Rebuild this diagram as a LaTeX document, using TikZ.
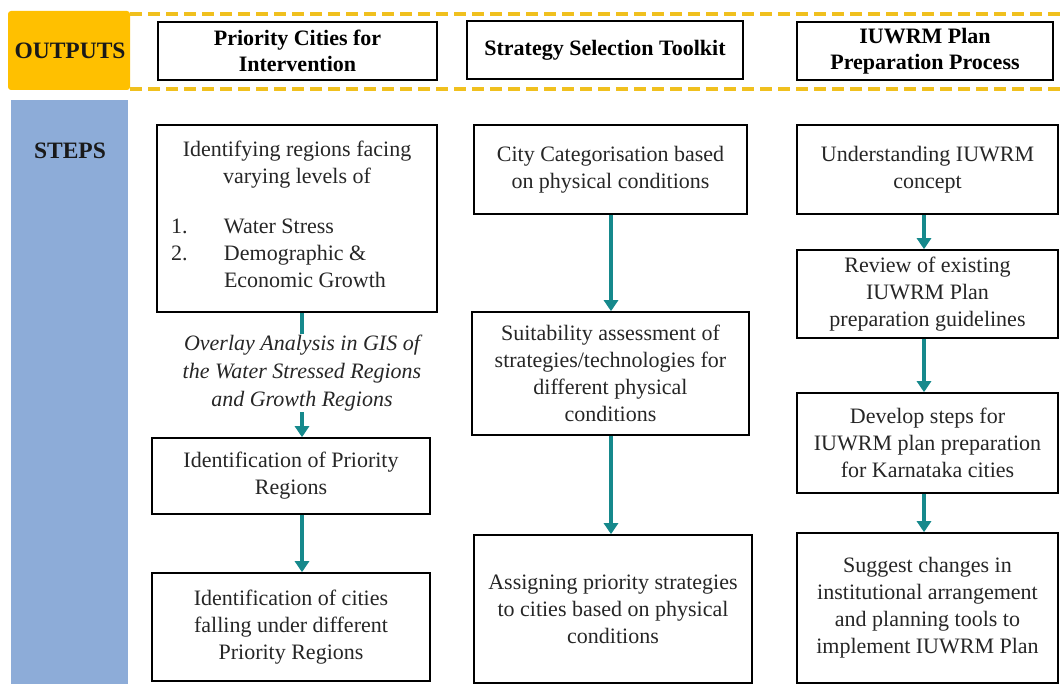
\documentclass[tikz,border=0pt]{standalone}
\usepackage{fontspec}
\setmainfont{Liberation Serif}
\usetikzlibrary{arrows.meta}

\definecolor{outyellow}{RGB}{255,192,0}
\definecolor{dashyellow}{RGB}{240,192,30}
\definecolor{stepblue}{RGB}{141,172,216}
\definecolor{flowteal}{RGB}{22,137,140}

\tikzset{
  body/.style={font=\fontsize{22}{27}\selectfont},
  stepbox/.style={draw=black, line width=1.6pt, fill=white, align=center,
    inner sep=4pt, text=black!85, body},
  outbox/.style={stepbox, text=black, font=\bfseries\fontsize{22}{26.5}\selectfont},
  flow/.style={draw=flowteal, line width=4pt,
    -{Triangle[width=14pt,length=11pt]}},
  flowplain/.style={draw=flowteal, line width=4pt},
  sep/.style={draw=dashyellow, line width=3.5pt, dash pattern=on 12pt off 6pt},
  tag/.style={font=\bfseries\fontsize{23.5}{26}\selectfont, text=black!90}
}

\begin{document}
\begin{tikzpicture}[x=1pt,y=-1pt]
\useasboundingbox (0,0) rectangle (1060,684);

% side bands
\fill[outyellow, rounded corners=3pt] (8,11) rectangle (130,90);
\fill[stepblue] (11,100) rectangle (128,690);
\node[tag] (outputs) at (70,51) {OUTPUTS};
\node[tag] (steps) at (70,151) {STEPS};

% dashed band around the outputs row
\draw[sep] (130,14) -- (1060,14);
\draw[sep] (130,89) -- (1060,89);

% outputs
\node[outbox, minimum width=279pt, minimum height=58pt] (t1) at (297.5,51)
  {Priority Cities for\\Intervention};
\node[outbox, minimum width=276pt, minimum height=58pt] (t2) at (605,50)
  {Strategy Selection Toolkit};
\node[outbox, minimum width=256pt, minimum height=58pt] (t3) at (925,51)
  {IUWRM Plan\\Preparation Process};

% left column
\node[stepbox, minimum width=280pt, minimum height=187pt] (l1) at (297,218.5)
  {\begin{minipage}{252pt}\centering
   Identifying regions facing\\varying levels of\par
   \vspace{25pt}\raggedright
   \begin{tabular}{@{}p{53pt}@{}l@{}}
   1.&Water Stress\\
   2.&Demographic \&\\
     &Economic Growth
   \end{tabular}\end{minipage}};
\node[align=center, inner sep=1pt, text=black!85,
  font=\itshape\fontsize{22}{28}\selectfont]
  (ov) at (302,373)
  {Overlay Analysis in GIS of\\the Water Stressed Regions\\and Growth Regions};
\node[stepbox, minimum width=278pt, minimum height=76pt] (l2) at (291,476)
  {Identification of Priority\\Regions};
\node[stepbox, minimum width=278pt, minimum height=108pt] (l3) at (291,627)
  {Identification of cities\\falling under different\\Priority Regions};

% middle column
\node[stepbox, minimum width=273pt, minimum height=89pt] (m1) at (610.5,169.5)
  {City Categorisation based\\on physical conditions};
\node[stepbox, minimum width=277pt, minimum height=123pt] (m2) at (610.5,373.5)
  {Suitability assessment of\\strategies/technologies for\\different physical\\conditions};
\node[stepbox, minimum width=278pt, minimum height=148pt] (m3) at (613,609)
  {Assigning priority strategies\\to cities based on physical\\conditions};

% right column
\node[stepbox, minimum width=261pt, minimum height=89pt] (r1) at (927.5,169.5)
  {Understanding IUWRM\\concept};
\node[stepbox, minimum width=261pt, minimum height=88pt] (r2) at (927.5,294)
  {Review of existing\\IUWRM Plan\\preparation guidelines};
\node[stepbox, minimum width=261pt, minimum height=100pt] (r3) at (927.5,443)
  {Develop steps for\\IUWRM plan preparation\\for Karnataka cities};
\node[stepbox, minimum width=261pt, minimum height=150pt] (r4) at (927.5,608)
  {Suggest changes in\\institutional arrangement\\and planning tools to\\implement IUWRM Plan};

% arrow columns
\coordinate (xl) at (302,0);
\coordinate (xm) at (611,0);
\coordinate (xr) at (924,0);

\draw[flowplain] (xl |- l1.south) -- (xl |- ov.north);
\draw[flow] (xl |- ov.south) -- (xl |- l2.north);
\draw[flow] (xl |- l2.south) -- (xl |- l3.north);

\draw[flow] (xm |- m1.south) -- (xm |- m2.north);
\draw[flow] (xm |- m2.south) -- (xm |- m3.north);

\draw[flow] (xr |- r1.south) -- (xr |- r2.north);
\draw[flow] (xr |- r2.south) -- (xr |- r3.north);
\draw[flow] (xr |- r3.south) -- (xr |- r4.north);
\end{tikzpicture}
\end{document}
